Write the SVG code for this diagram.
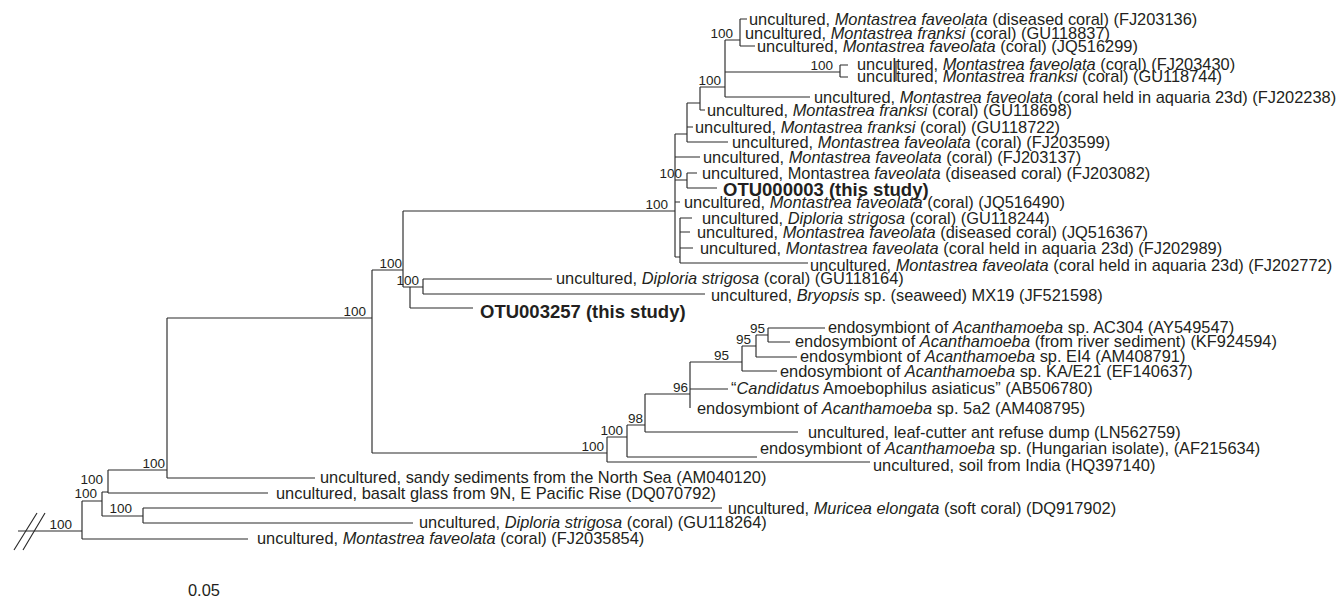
<svg xmlns="http://www.w3.org/2000/svg" width="1341" height="599" viewBox="0 0 1341 599">
<style>
.br{stroke:#2b2b2b;stroke-width:1.15;fill:none}
.lf{font-family:"Liberation Sans",Arial,sans-serif;font-size:16.4px;fill:#231f20}
.ot{font-family:"Liberation Sans",Arial,sans-serif;font-size:18.5px;font-weight:bold;fill:#231f20}
.bs{font-family:"Liberation Sans",Arial,sans-serif;font-size:13.5px;fill:#231f20;text-anchor:end}
.i{font-style:italic}
</style>
<rect width="1341" height="599" fill="#fff"/>
<g id="connectors">
<path class="br" d="M740,19V46M740,19H747M740,46H755"/>
<path class="br" d="M840,65V77M840,65H848M840,77H848"/>
<path class="br" d="M725,40V97M725,40H740M725,72H840M725,97H810"/>
<path class="br" d="M700,87V110M700,87H725M700,110H705"/>
<path class="br" d="M687,103V142M687,103H700M687,127H693M687,142H728"/>
<path class="br" d="M687,173V188M687,173H697M687,188H717"/>
<path class="br" d="M680,218V263M680,218H692M680,232H690M680,248H693M680,263H808"/>
<path class="br" d="M675,134V257M675,134H687M675,157H700M675,180H687M675,202H680M675,257H680"/>
<path class="br" d="M423,279V294M423,279H552M423,294H705"/>
<path class="br" d="M410,287V308M410,287H423M410,308H473"/>
<path class="br" d="M403,211V287M403,211H675M403,287H410"/>
<path class="br" d="M768,328V342M768,328H825M768,342H790"/>
<path class="br" d="M756,335V357M756,335H768M756,357H797"/>
<path class="br" d="M742,346V371M742,346H756M742,371H777"/>
<path class="br" d="M690,362V408M690,362H742M690,389H728"/>
<path class="br" d="M645,394V432M645,394H690M645,432H798"/>
<path class="br" d="M627,425V457M627,425H645M627,457H757"/>
<path class="br" d="M607,437V462M607,437H627M607,462H870"/>
<path class="br" d="M372,270V453M372,270H403M372,453H607"/>
<path class="br" d="M167,318V478M167,318H372M167,478H315"/>
<path class="br" d="M108,470V493M108,470H167M108,493H268"/>
<path class="br" d="M143,508V523M143,508H722M143,523H413"/>
<path class="br" d="M102,492V516M102,492H108M102,516H143"/>
<path class="br" d="M82,501V539M82,501H102M82,539H248"/>
<path class="br" d="M18,531H82"/>
<path class="br" d="M14,550L37,513M23,550L45,513"/>
<path class="br" d="M896,61V81"/>
</g>
<g id="bootstrap">
<g id="n740"><text class="bs" x="733" y="38">100</text></g>
<g id="n840"><text class="bs" x="833" y="70">100</text></g>
<g id="n725"><text class="bs" x="721" y="85">100</text></g>
<g id="n687b"><text class="bs" x="682" y="178">100</text></g>
<g id="n675"><text class="bs" x="668" y="209">100</text></g>
<g id="n403"><text class="bs" x="402" y="268">100</text></g>
<g id="n423"><text class="bs" x="419" y="285">100</text></g>
<g id="n372"><text class="bs" x="366" y="316">100</text></g>
<g id="n768"><text class="bs" x="765" y="333">95</text></g>
<g id="n756"><text class="bs" x="751" y="344">95</text></g>
<g id="n742"><text class="bs" x="729" y="360">95</text></g>
<g id="n690"><text class="bs" x="688" y="392">96</text></g>
<g id="n645"><text class="bs" x="643" y="423">98</text></g>
<g id="n627"><text class="bs" x="623" y="435">100</text></g>
<g id="n607"><text class="bs" x="604" y="451">100</text></g>
<g id="n167"><text class="bs" x="165" y="468">100</text></g>
<g id="n108"><text class="bs" x="103" y="484">100</text></g>
<g id="n102"><text class="bs" x="97" y="498">100</text></g>
<g id="n143"><text class="bs" x="132" y="513">100</text></g>
<g id="n82"><text class="bs" x="72" y="529">100</text></g>
</g>
<g id="leaves">
<g id="FJ203136"><text class="lf" x="749" y="25">uncultured, <tspan class="i">Montastrea faveolata</tspan> (diseased coral) (FJ203136)</text></g>
<g id="GU118837"><text class="lf" x="745" y="39">uncultured, <tspan class="i">Montastrea franksi</tspan> (coral) (GU118837)</text></g>
<g id="JQ516299"><text class="lf" x="757" y="52">uncultured, <tspan class="i">Montastrea faveolata</tspan> (coral) (JQ516299)</text></g>
<g id="FJ203430"><text class="lf" x="857" y="70">uncultured, <tspan class="i">Montastrea faveolata</tspan> (coral) (FJ203430)</text></g>
<g id="GU118744"><text class="lf" x="857" y="82">uncultured, <tspan class="i">Montastrea franksi</tspan> (coral) (GU118744)</text></g>
<g id="FJ202238"><text class="lf" x="814" y="103">uncultured, <tspan class="i">Montastrea faveolata</tspan> (coral held in aquaria 23d) (FJ202238)</text></g>
<g id="GU118698"><text class="lf" x="707" y="116">uncultured, <tspan class="i">Montastrea franksi</tspan> (coral) (GU118698)</text></g>
<g id="GU118722"><text class="lf" x="695" y="133">uncultured, <tspan class="i">Montastrea franksi</tspan> (coral) (GU118722)</text></g>
<g id="FJ203599"><text class="lf" x="732" y="148">uncultured, <tspan class="i">Montastrea faveolata</tspan> (coral) (FJ203599)</text></g>
<g id="FJ203137"><text class="lf" x="703" y="163">uncultured, <tspan class="i">Montastrea faveolata</tspan> (coral) (FJ203137)</text></g>
<g id="FJ203082"><text class="lf" x="702" y="179">uncultured, Montastrea <tspan class="i">faveolata</tspan> (diseased coral) (FJ203082)</text></g>
<g id="OTU000003"><text class="ot" x="723" y="196">OTU000003 (this study)</text></g>
<g id="JQ516490"><text class="lf" x="684" y="208">uncultured, <tspan class="i">Montastrea faveolata</tspan> (coral) (JQ516490)</text></g>
<g id="GU118244"><text class="lf" x="702" y="224">uncultured, <tspan class="i">Diploria strigosa</tspan> (coral) (GU118244)</text></g>
<g id="JQ516367"><text class="lf" x="697" y="238">uncultured, <tspan class="i">Montastrea faveolata</tspan> (diseased coral) (JQ516367)</text></g>
<g id="FJ202989"><text class="lf" x="700" y="254">uncultured, <tspan class="i">Montastrea faveolata</tspan> (coral held in aquaria 23d) (FJ202989)</text></g>
<g id="FJ202772"><text class="lf" x="810" y="271">uncultured, <tspan class="i">Montastrea faveolata</tspan> (coral held in aquaria 23d) (FJ202772)</text></g>
<g id="GU118164"><text class="lf" x="556" y="284">uncultured, <tspan class="i">Diploria strigosa</tspan> (coral) (GU118164)</text></g>
<g id="JF521598"><text class="lf" x="711" y="301">uncultured, <tspan class="i">Bryopsis</tspan> sp. (seaweed) MX19 (JF521598)</text></g>
<g id="OTU003257"><text class="ot" x="480" y="318">OTU003257 (this study)</text></g>
<g id="AY549547"><text class="lf" x="828" y="333">endosymbiont of <tspan class="i">Acanthamoeba</tspan> sp. AC304 (AY549547)</text></g>
<g id="KF924594"><text class="lf" x="795" y="347">endosymbiont of <tspan class="i">Acanthamoeba</tspan> (from river sediment) (KF924594)</text></g>
<g id="AM408791"><text class="lf" x="800" y="362">endosymbiont of <tspan class="i">Acanthamoeba</tspan> sp. EI4 (AM408791)</text></g>
<g id="EF140637"><text class="lf" x="780" y="377">endosymbiont of <tspan class="i">Acanthamoeba</tspan> sp. KA/E21 (EF140637)</text></g>
<g id="AB506780"><text class="lf" x="731" y="394">“<tspan class="i">Candidatus</tspan> Amoebophilus asiaticus” (AB506780)</text></g>
<g id="AM408795"><text class="lf" x="697" y="414">endosymbiont of <tspan class="i">Acanthamoeba</tspan> sp. 5a2 (AM408795)</text></g>
<g id="LN562759"><text class="lf" x="808" y="438">uncultured, leaf-cutter ant refuse dump (LN562759)</text></g>
<g id="AF215634"><text class="lf" x="760" y="454">endosymbiont of <tspan class="i">Acanthamoeba</tspan> sp. (Hungarian isolate), (AF215634)</text></g>
<g id="HQ397140"><text class="lf" x="873" y="471">uncultured, soil from India (HQ397140)</text></g>
<g id="AM040120"><text class="lf" x="320" y="483">uncultured, sandy sediments from the North Sea (AM040120)</text></g>
<g id="DQ070792"><text class="lf" x="276" y="499">uncultured, basalt glass from 9N, E Pacific Rise (DQ070792)</text></g>
<g id="DQ917902"><text class="lf" x="728" y="514">uncultured, <tspan class="i">Muricea elongata</tspan> (soft coral) (DQ917902)</text></g>
<g id="GU118264"><text class="lf" x="419" y="528">uncultured, <tspan class="i">Diploria strigosa</tspan> (coral) (GU118264)</text></g>
<g id="FJ2035854"><text class="lf" x="257" y="544">uncultured, <tspan class="i">Montastrea faveolata</tspan> (coral) (FJ2035854)</text></g>
</g>
<text class="lf" x="188" y="596">0.05</text>
</svg>
